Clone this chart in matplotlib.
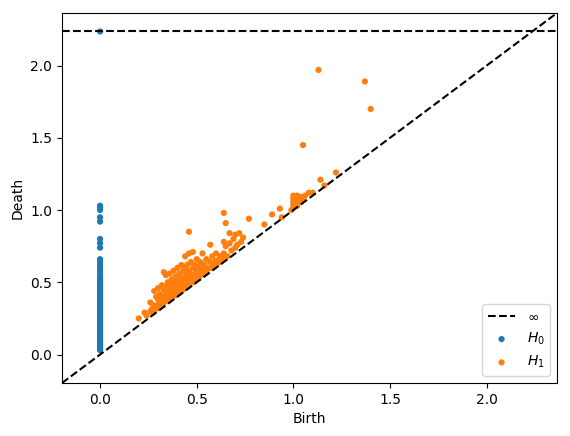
import matplotlib
matplotlib.use("Agg")
import matplotlib.pyplot as plt
import numpy as np

# H0: all born at 0, one class never dies (drawn on the infinity line)
h0_death = [
    0.03, 0.04, 0.05, 0.06, 0.07, 0.08, 0.09, 0.10, 0.11, 0.12,
    0.13, 0.14, 0.15, 0.16, 0.17, 0.18, 0.19, 0.20, 0.21, 0.22,
    0.23, 0.24, 0.25, 0.26, 0.27, 0.28, 0.29, 0.30, 0.31, 0.32,
    0.33, 0.34, 0.35, 0.36, 0.37, 0.38, 0.39, 0.40, 0.41, 0.42,
    0.43, 0.44, 0.45, 0.46, 0.47, 0.48, 0.49, 0.50, 0.51, 0.52,
    0.53, 0.54, 0.56, 0.58, 0.60, 0.62, 0.64, 0.66, 0.74, 0.77,
    0.80, 0.92, 0.95, 1.00, 1.02, 1.03, np.inf,
]

h1_birth = [
    0.20, 0.23, 0.24, 0.26, 0.26, 0.27, 0.27, 0.28, 0.28, 0.28,
    0.29, 0.29, 0.30, 0.30, 0.30, 0.30, 0.31, 0.31, 0.31, 0.32,
    0.32, 0.32, 0.32, 0.33, 0.33, 0.33, 0.33, 0.34, 0.34, 0.34,
    0.34, 0.35, 0.35, 0.35, 0.35, 0.36, 0.36, 0.36, 0.36, 0.37,
    0.37, 0.37, 0.37, 0.38, 0.38, 0.38, 0.38, 0.39, 0.39, 0.39,
    0.39, 0.40, 0.40, 0.40, 0.40, 0.41, 0.41, 0.41, 0.41, 0.42,
    0.42, 0.42, 0.42, 0.43, 0.43, 0.43, 0.43, 0.44, 0.44, 0.44,
    0.44, 0.45, 0.45, 0.45, 0.45, 0.46, 0.46, 0.46, 0.46, 0.46,
    0.47, 0.47, 0.47, 0.48, 0.48, 0.48, 0.48, 0.49, 0.49, 0.49,
    0.50, 0.50, 0.50, 0.51, 0.51, 0.51, 0.52, 0.52, 0.52, 0.53,
    0.53, 0.53, 0.54, 0.54, 0.55, 0.55, 0.55, 0.57, 0.57, 0.57,
    0.58, 0.58, 0.58, 0.60, 0.60, 0.60, 0.62, 0.62, 0.64, 0.64,
    0.64, 0.64, 0.65, 0.65, 0.66, 0.67, 0.67, 0.68, 0.69, 0.70,
    0.70, 0.71, 0.72, 0.73, 0.74, 0.77, 0.85, 0.89, 0.93, 0.94,
    0.99, 1.00, 1.00, 1.00, 1.00, 1.00, 1.01, 1.01, 1.02, 1.02,
    1.03, 1.04, 1.04, 1.05, 1.06, 1.08, 1.10, 1.05, 1.14, 1.16,
    1.22, 1.13, 1.37, 1.40,
]
h1_death = [
    0.25, 0.29, 0.27, 0.36, 0.30, 0.32, 0.29, 0.44, 0.34, 0.31,
    0.40, 0.33, 0.46, 0.38, 0.34, 0.32, 0.42, 0.36, 0.34, 0.48,
    0.40, 0.37, 0.34, 0.57, 0.45, 0.39, 0.36, 0.55, 0.47, 0.42,
    0.37, 0.50, 0.44, 0.40, 0.38, 0.56, 0.48, 0.43, 0.39, 0.52,
    0.46, 0.42, 0.39, 0.58, 0.50, 0.45, 0.41, 0.54, 0.48, 0.44,
    0.41, 0.60, 0.52, 0.47, 0.42, 0.56, 0.50, 0.46, 0.43, 0.62,
    0.54, 0.49, 0.44, 0.58, 0.52, 0.48, 0.45, 0.68, 0.60, 0.53,
    0.47, 0.62, 0.56, 0.51, 0.47, 0.85, 0.70, 0.58, 0.52, 0.48,
    0.64, 0.55, 0.50, 0.71, 0.60, 0.54, 0.50, 0.62, 0.56, 0.52,
    0.66, 0.58, 0.53, 0.61, 0.56, 0.53, 0.64, 0.58, 0.55, 0.70,
    0.60, 0.56, 0.62, 0.57, 0.66, 0.60, 0.58, 0.76, 0.64, 0.60,
    0.68, 0.63, 0.61, 0.70, 0.65, 0.62, 0.68, 0.64, 0.98, 0.78,
    0.70, 0.66, 0.91, 0.75, 0.68, 0.84, 0.77, 0.72, 0.80, 0.83,
    0.74, 0.76, 0.84, 0.78, 0.81, 0.94, 0.90, 0.97, 1.01, 0.95,
    1.00, 1.10, 1.08, 1.06, 1.04, 1.02, 1.09, 1.05, 1.10, 1.03,
    1.07, 1.09, 1.06, 1.08, 1.10, 1.12, 1.12, 1.45, 1.21, 1.17,
    1.26, 1.97, 1.89, 1.70,
]

h0 = np.column_stack([np.zeros(len(h0_death)), h0_death])
h1 = np.column_stack([h1_birth, h1_death])

finite = np.concatenate([h0[np.isfinite(h0[:, 1])], h1])
ax_min, ax_max = finite.min(), finite.max()
buffer = (ax_max - ax_min) / 5
x_down = ax_min - buffer / 2
x_up = ax_max + buffer
y_down, y_up = x_down, x_up
b_inf = y_down + (y_up - y_down) * 0.95
h0[~np.isfinite(h0[:, 1]), 1] = b_inf

fig = plt.figure(figsize=(5.7, 4.36), dpi=100)
ax = fig.add_axes([62 / 570, 53 / 436, 495 / 570, 370 / 436])

ax.plot([x_down, x_up], [b_inf, b_inf], "--", c="k", label=r"$\infty$")
ax.plot([x_down, x_up], [x_down, x_up], "--", c="k")
ax.scatter(h0[:, 0], h0[:, 1], s=20, edgecolor="none", label="$H_0$")
ax.scatter(h1[:, 0], h1[:, 1], s=20, edgecolor="none", label="$H_1$")

ax.set_xlim(x_down, x_up)
ax.set_ylim(y_down, y_up)
ax.set_xlabel("Birth")
ax.set_ylabel("Death")
ax.legend(loc="lower right")

fig.savefig("out.png", dpi=100)
